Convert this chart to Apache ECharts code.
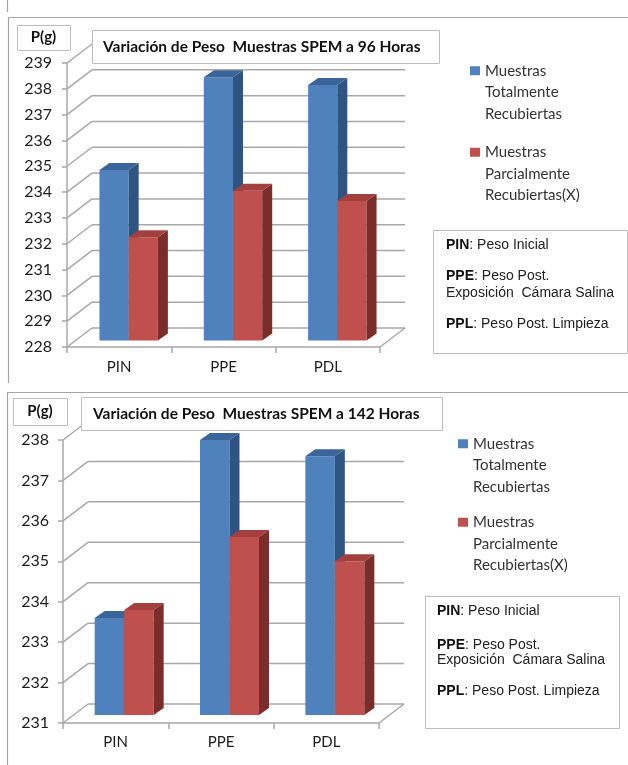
<!DOCTYPE html>
<html>
<head>
<meta charset="utf-8">
<script src="https://cdn.jsdelivr.net/npm/echarts@6/dist/echarts.min.js"></script>
<style>
  html, body { margin: 0; padding: 0; background: #ffffff; }
  #chart { width: 628px; height: 765px; }
</style>
</head>
<body>
<div id="chart"></div>
<script>
// Categories and series values (grams)
const categories = ['PIN', 'PPE', 'PDL'];
const nameTotal = 'Muestras\nTotalmente\nRecubiertas';
const namePartial = 'Muestras\nParcialmente\nRecubiertas(X)';

const total96 = [234.6, 238.2, 237.9];
const partial96 = [232.0, 233.8, 233.4];
const total142 = [233.4, 237.8, 237.4];
const partial142 = [233.6, 235.4, 234.8];

// Value axis ticks for each chart
const ticks96 = [228, 229, 230, 231, 232, 233, 234, 235, 236, 237, 238, 239];
const ticks142 = [231, 232, 233, 234, 235, 236, 237, 238];

const title96 = 'Variación de Peso  Muestras SPEM a 96 Horas';
const title142 = 'Variación de Peso  Muestras SPEM a 142 Horas';

// 3D look: back wall offset, bar depth
const WALL = [25, -19];
const DEPTH = [10, -7];
const BAR_RATIO = 0.28;

const BLUE = { front: '#4F81BD', side: '#2F5482', top: '#3B6499' };
const RED = { front: '#C0504D', side: '#7B2D2B', top: '#A3403D' };

const GRID_COLOR = '#A8A8A8';
const TXT = '#1c1c1c';
const UI_FONT = 'Lato, "Liberation Sans", sans-serif';
const NOTE_FONT = '"Liberation Sans", Arial, sans-serif';

function wallRenderer(base) {
  return function (params, api) {
    const cs = params.coordSys;
    const left = cs.x, right = cs.x + cs.width;
    const v = api.value(1);
    const y = api.coord([0, v])[1];
    const style = { stroke: GRID_COLOR, lineWidth: 1.5, fill: null };
    const children = [
      { type: 'line', shape: { x1: left, y1: y, x2: left + WALL[0], y2: y + WALL[1] }, style },
      { type: 'line', shape: { x1: left + WALL[0], y1: y + WALL[1], x2: right + WALL[0], y2: y + WALL[1] }, style }
    ];
    if (v === base) {
      children.push({ type: 'line', shape: { x1: right, y1: y, x2: right + WALL[0], y2: y + WALL[1] }, style });
    }
    return { type: 'group', children };
  };
}

function barRenderer(side, shift, colors, base) {
  return function (params, api) {
    const i = api.value(0);
    const top = api.coord([i, api.value(1)]);
    const bottom = api.coord([i, base]);
    const band = api.size([1, 0])[0];
    const w = band * BAR_RATIO;
    const x1 = top[0] + shift[0] + (side < 0 ? -w : 0);
    const x2 = x1 + w;
    const yt = top[1] + shift[1];
    const yb = bottom[1] + shift[1];
    return {
      type: 'group',
      children: [
        { type: 'rect', shape: { x: x1, y: yt, width: w, height: yb - yt }, style: { fill: colors.front } },
        { type: 'polygon', shape: { points: [[x2, yt], [x2 + DEPTH[0], yt + DEPTH[1]], [x2 + DEPTH[0], yb + DEPTH[1]], [x2, yb]] }, style: { fill: colors.side } },
        { type: 'polygon', shape: { points: [[x1, yt], [x1 + DEPTH[0], yt + DEPTH[1]], [x2 + DEPTH[0], yt + DEPTH[1]], [x2, yt]] }, style: { fill: colors.top } }
      ]
    };
  };
}

function barSeries(name, values, side, colors, gridIndex, base, shift) {
  return {
    type: 'custom',
    name,
    xAxisIndex: gridIndex,
    yAxisIndex: gridIndex,
    z: 3,
    itemStyle: { color: colors.front },
    renderItem: barRenderer(side, shift, colors, base),
    encode: { x: 0, y: 1 },
    data: values.map((v, i) => [i, v])
  };
}

function wallSeries(ticks, gridIndex) {
  return {
    type: 'custom',
    xAxisIndex: gridIndex,
    yAxisIndex: gridIndex,
    z: 1,
    silent: true,
    renderItem: wallRenderer(ticks[0]),
    encode: { x: 0, y: 1 },
    data: ticks.map(v => [0, v])
  };
}

function xAxis(gridIndex, margin) {
  return {
    type: 'category',
    gridIndex,
    data: categories,
    axisLine: { lineStyle: { color: GRID_COLOR, width: 1.5 } },
    axisTick: { show: true, length: 6, lineStyle: { color: GRID_COLOR, width: 1.5 } },
    axisLabel: { color: TXT, fontFamily: UI_FONT, fontSize: 15, margin },
    splitLine: { show: false }
  };
}

function yAxis(gridIndex, ticks, margin) {
  return {
    type: 'value',
    gridIndex,
    min: ticks[0],
    max: ticks[ticks.length - 1],
    interval: 1,
    axisLine: { show: true, lineStyle: { color: GRID_COLOR, width: 1.5 } },
    axisTick: { show: true, length: 5, lineStyle: { color: GRID_COLOR, width: 1.5 } },
    axisLabel: { color: TXT, fontFamily: UI_FONT, fontSize: 16, margin },
    splitLine: { show: false }
  };
}

// Square icon aligned with the first line of a three-line label
const LEGEND_ICON = 'path://M0,0L0,0M0,6H10V15H0ZM0,64L0,64';

function legend(left, top, gap) {
  return {
    data: [nameTotal, namePartial],
    orient: 'vertical',
    left, top,
    padding: 0,
    itemGap: gap,
    itemWidth: 10,
    itemHeight: 64,
    icon: LEGEND_ICON,
    itemStyle: { borderWidth: 0 },
    textStyle: { color: '#333333', fontFamily: UI_FONT, fontSize: 15, lineHeight: 21.5 },
    selectedMode: false
  };
}

function boxedText(x, y, w, h, text, textX, font) {
  return [
    { type: 'rect', z: 100, shape: { x: x + 0.5, y: y + 0.5, width: w, height: h },
      style: { fill: '#ffffff', stroke: '#BDBDBD', lineWidth: 1 } },
    { type: 'text', z: 101, x: textX, y: y + h / 2,
      style: { text, fill: '#111111', font, verticalAlign: 'middle', align: 'left' } }
  ];
}

function centeredBox(x, y, w, h, text, font) {
  return [
    { type: 'rect', z: 100, shape: { x: x + 0.5, y: y + 0.5, width: w, height: h },
      style: { fill: '#ffffff', stroke: '#BDBDBD', lineWidth: 1 } },
    { type: 'text', z: 101, x: x + w / 2, y: y + h / 2,
      style: { text, fill: '#111111', font, verticalAlign: 'middle', align: 'center' } }
  ];
}

function noteLine(x, y, bold, rest) {
  return {
    type: 'text', z: 101, x, y,
    style: {
      text: (bold ? '{b|' + bold + '}' : '') + '{n|' + rest + '}',
      verticalAlign: 'middle',
      rich: {
        b: { fontFamily: NOTE_FONT, fontSize: 14, fontWeight: 'bold', fill: '#111111' },
        n: { fontFamily: NOTE_FONT, fontSize: 14, fill: '#222222' }
      }
    }
  };
}

function noteBox(x, y, w, h, tx, lines) {
  const els = [{ type: 'rect', z: 100, shape: { x: x + 0.5, y: y + 0.5, width: w, height: h },
    style: { fill: '#ffffff', stroke: '#BDBDBD', lineWidth: 1 } }];
  lines.forEach(l => els.push(noteLine(tx, l[0], l[1], l[2])));
  return els;
}

function frameLine(x1, y1, x2, y2) {
  return { type: 'line', z: 0, shape: { x1, y1, x2, y2 }, style: { stroke: '#A6A6A6', lineWidth: 1.2 } };
}

const chart = echarts.init(document.getElementById('chart'), null, { renderer: 'canvas' });

chart.setOption({
  animation: false,
  backgroundColor: '#ffffff',
  grid: [
    { left: 67, top: 63, width: 313, height: 284 },
    { left: 63, top: 440, width: 316, height: 283 }
  ],
  xAxis: [xAxis(0, 13), xAxis(1, 12)],
  yAxis: [yAxis(0, ticks96, 15), yAxis(1, ticks142, 14)],
  legend: [legend(470, 60, 17), legend(458, 433, 14)],
  series: [
    wallSeries(ticks96, 0),
    barSeries(nameTotal, total96, -1, BLUE, 0, ticks96[0], [9.5, -6.5]),
    barSeries(namePartial, partial96, 1, RED, 0, ticks96[0], [9.5, -6.5]),
    wallSeries(ticks142, 1),
    barSeries(nameTotal, total142, -1, BLUE, 1, ticks142[0], [8.5, -8]),
    barSeries(namePartial, partial142, 1, RED, 1, ticks142[0], [8.5, -8])
  ],
  graphic: [
    frameLine(7.5, 0, 7.5, 12),
    frameLine(8, 17.5, 628, 17.5),
    frameLine(8.5, 17, 8.5, 383),
    frameLine(7, 392.5, 628, 392.5),
    frameLine(7.5, 392, 7.5, 765),
    ...centeredBox(17, 25, 53, 25, 'P(g)', 'bold 15px ' + UI_FONT),
    ...boxedText(92, 30, 347, 33, title96, 103, 'bold 15.5px ' + UI_FONT),
    ...centeredBox(13, 398, 54, 27, 'P(g)', 'bold 15px ' + UI_FONT),
    ...boxedText(81, 397, 361, 33, title142, 93, 'bold 15.5px ' + UI_FONT),
    ...noteBox(433, 230, 194, 123, 446, [
      [245, 'PIN', ': Peso Inicial'],
      [276.5, 'PPE', ': Peso Post.'],
      [293.5, null, 'Exposición  Cámara Salina'],
      [324, 'PPL', ': Peso Post. Limpieza']
    ]),
    ...noteBox(425, 596, 194, 132, 437, [
      [611, 'PIN', ': Peso Inicial'],
      [645, 'PPE', ': Peso Post.'],
      [660, null, 'Exposición  Cámara Salina'],
      [691, 'PPL', ': Peso Post. Limpieza']
    ])
  ]
});
</script>
</body>
</html>
